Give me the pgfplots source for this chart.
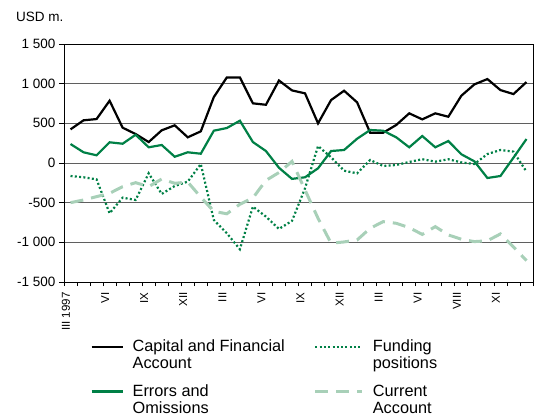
\documentclass[border=0pt]{standalone}
\usepackage{pgfplots}
\pgfplotsset{compat=1.18}
\usepackage{pgfplotstable}
\usepackage{fontspec}
\setmainfont{Liberation Sans}
\definecolor{eog}{RGB}{0,128,70}
\definecolor{cag}{RGB}{168,208,184}
\definecolor{gridc}{RGB}{95,95,95}
\pgfplotsset{
  shortleg/.style={legend image code/.code={\draw[##1] (0bp,8bp) -- (31bp,8bp);}},
  longleg/.style={legend image code/.code={\draw[##1] (0bp,8bp) -- (47bp,8bp);}},
}

\pgfplotstableread{
k cfa eo fp ca
0 424 239 -164 -500
1 538 135 -180 -466
2 554 97 -206 -424
3 785 261 -634 -382
4 445 243 -437 -298
5 365 356 -466 -248
6 264 198 -130 -298
7 412 227 -390 -202
8 475 79 -290 -256
9 324 135 -235 -240
10 399 117 -13 -430
11 831 407 -718 -610
12 1079 441 -886 -640
13 1079 533 -1087 -520
14 752 264 -550 -440
15 734 151 -676 -220
16 1040 -60 -831 -120
17 915 -200 -730 20
18 878 -180 -319 -340
19 500 -67 214 -697
20 793 151 72 -1011
21 911 164 -97 -995
22 764 306 -130 -970
23 382 416 38 -823
24 382 407 -38 -739
25 479 324 -25 -760
26 626 198 13 -815
27 550 340 48 -900
28 626 198 17 -802
29 583 277 47 -907
30 848 110 8 -961
31 991 21 -13 -991
32 1058 -189 113 -980
33 919 -164 164 -894
34 869 67 143 -1058
35 1020 302 -109 -1230
}\datatable

\begin{document}
\begin{tikzpicture}
\useasboundingbox (0,0) rectangle (537bp,416bp);
\node[anchor=west, inner sep=0pt, font=\fontsize{13.5bp}{15bp}\selectfont] at (16bp,399bp) {USD m.};
\begin{axis}[
  at={(64bp,134bp)}, anchor=south west,
  scale only axis, width=469bp, height=238bp,
  xmin=-0.5, xmax=35.5, ymin=-1500, ymax=1500,
  axis line style={black, line width=1bp},
  ytick={-1500,-1000,...,1500},
  yticklabels={-1 500,-1 000,-500,0,500,1 000,1 500},
  ymajorgrids,
  major grid style={gridc, line width=1bp},
  tick align=outside,
  tick pos=left,
  major tick length=5bp,
  minor tick length=4bp,
  tick style={black, line width=0.8bp},
  xtick={0,3,...,33},
  xticklabels={III 1997,VI,IX,XII,III,VI,IX,XII,III,VI,VIII,XI},
  major x tick style={draw=none},
  minor xtick={-0.5,0.5,...,35.5},
  x tick label style={rotate=90, anchor=east, font=\fontsize{11.5bp}{13bp}\selectfont, xshift=-2bp, yshift=4.5bp},
  y tick label style={font=\fontsize{13.5bp}{15bp}\selectfont},
  legend style={draw=none, fill=none, at={(0.056,-0.235)}, anchor=north west,
    inner sep=0pt, font=\fontsize{16.3bp}{17bp}\selectfont, cells={align=left},
    /tikz/every odd column/.append style={column sep=7bp},
    /tikz/every even column/.append style={column sep=27bp},
    row sep=10bp},
  legend cell align=left,
  legend columns=2,
  transpose legend,
]
\addplot[black, line width=2.2bp, shortleg] table[x=k, y=cfa] {\datatable};
\addlegendentry{Capital and Financial\\Account}
\addplot[eog, line width=2.2bp, shortleg] table[x=k, y=eo] {\datatable};
\addlegendentry{Errors and\\Omissions}
\addplot[eog, line width=2.2bp, dash pattern=on 2bp off 2.3bp, longleg] table[x=k, y=fp] {\datatable};
\addlegendentry{Funding\\positions}
\addplot[cag, line width=3bp, dash pattern=on 13bp off 8bp, longleg] table[x=k, y=ca] {\datatable};
\addlegendentry{Current\\Account}
\end{axis}
\end{tikzpicture}
\end{document}
